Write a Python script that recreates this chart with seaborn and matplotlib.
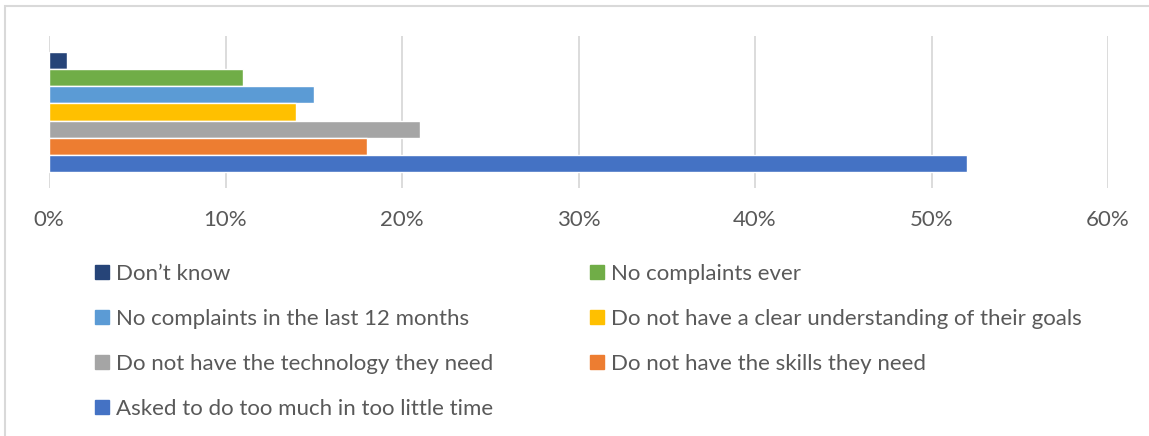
import matplotlib
matplotlib.use("Agg")
import matplotlib.pyplot as plt
from matplotlib.patches import Rectangle
from matplotlib.ticker import PercentFormatter
import seaborn as sns
import pandas as pd

# Survey responses: reasons given, share of respondents
series = [
    "Don\u2019t know",
    "No complaints ever",
    "No complaints in the last 12 months",
    "Do not have a clear understanding of their goals",
    "Do not have the technology they need",
    "Do not have the skills they need",
    "Asked to do too much in too little time",
]
shares = [0.01, 0.11, 0.15, 0.14, 0.21, 0.18, 0.52]
colors = ["#264478", "#70AD47", "#5B9BD5", "#FFC000", "#A5A5A5", "#ED7D31", "#4472C4"]
x_ticks = [0.0, 0.1, 0.2, 0.3, 0.4, 0.5, 0.6]

df = pd.DataFrame({"group": [""] * len(series), "series": series, "share": shares})

sns.set_theme(style="white")
plt.rcParams["font.family"] = ["Lato", "DejaVu Sans"]

W, H = 1149, 436
fig = plt.figure(figsize=(W / 100, H / 100), dpi=100)
ax = fig.add_axes([49 / W, 1 - 188 / H, (1108 - 49) / W, (188 - 36) / H])

sns.barplot(
    data=df, x="share", y="group", hue="series", hue_order=series,
    palette=colors, orient="h", dodge=True, width=0.8, saturation=1,
    errorbar=None, legend=False, ax=ax, zorder=3,
)

ax.set_xlim(0, 0.6)
ax.set_ylim(0.504, -0.504)
ax.set_xticks(x_ticks)
ax.xaxis.set_major_formatter(PercentFormatter(1.0, decimals=0))
ax.set_yticks([])
ax.set_xlabel("")
ax.set_ylabel("")
ax.grid(axis="x", color="#D9D9D9", linewidth=1.3, zorder=0)
ax.set_axisbelow(True)
for s in ax.spines.values():
    s.set_visible(False)
ax.tick_params(axis="x", length=0, pad=16, labelsize=16, labelcolor="#595959")

# Legend in two blocks laid out row by row
fs = 16
handles = [Rectangle((0, 0), 1, 1, color=c) for c in colors]
left_idx = [0, 2, 4, 6]
right_idx = [1, 3, 5]
common = dict(frameon=False, fontsize=fs, handlelength=0.63, handleheight=0.63,
              handletextpad=0.3, labelspacing=1.12, borderpad=0, borderaxespad=0,
              loc="upper left", labelcolor="#595959")
leg1 = fig.legend([handles[i] for i in left_idx], [series[i] for i in left_idx],
                  bbox_to_anchor=(95 / W, 1 - 264 / H), **common)
leg2 = fig.legend([handles[i] for i in right_idx], [series[i] for i in right_idx],
                  bbox_to_anchor=(590 / W, 1 - 264 / H), **common)

# Chart frame
fig.patches.append(Rectangle((5 / W, -0.05), 1.1, 1 - 6 / H + 0.05, transform=fig.transFigure,
                             fill=False, edgecolor="#D9D9D9", linewidth=1.5))

fig.savefig("out.png", dpi=100)
